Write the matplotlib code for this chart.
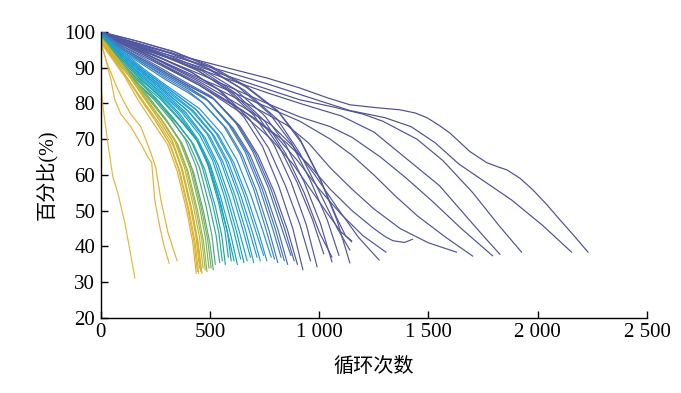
""" Capacity fade curves: percentage vs. cycle number. """

import matplotlib.pyplot as plt
from matplotlib.colors import LinearSegmentedColormap

# each curve: (cycle, percent) points
outlier_curves = [
    [(0, 87), (8, 80), (32, 69), (55, 59.5), (78, 55), (110, 46.6), (133, 39), (156, 31.2)],
    [(0, 97), (20, 93), (45, 87), (64, 81), (92, 77), (137, 73.5), (190, 68), (215, 65),
     (233, 63.5), (247, 53), (270, 45.5), (290, 40), (313, 35.3)],
    [(0, 97), (30, 91), (70, 85), (101, 81), (137, 77), (183, 73.5), (224, 67), (252, 62),
     (275, 53), (307, 44), (349, 36)],
]

yellow_curves = [
    [(0, 97), (52, 92.5), (109, 87.5), (175, 80.5), (240, 74.5), (306, 68.5), (350, 61), (393, 50), (420, 41.5), (437, 32.5)],
    [(0, 98), (55, 93), (112, 88), (180, 81.5), (246, 75.5), (312, 69), (356, 61.5), (398, 50.5), (425, 42), (442, 33)],
    [(0, 97.5), (56, 92.5), (115, 87.5), (184, 81), (252, 75), (318, 68.5), (362, 61), (404, 50), (431, 41.5), (448, 32.5)],
    [(0, 98.5), (58, 94), (118, 89), (188, 82.5), (256, 76.5), (323, 70), (366, 62.5), (408, 51.5), (435, 43), (452, 34)],
    [(0, 98), (59, 93.5), (120, 88.5), (192, 82), (261, 76), (328, 69.5), (372, 62), (414, 51), (440, 42.5), (458, 33)],
    [(0, 97), (60, 92), (122, 87), (196, 80.5), (266, 74.5), (333, 68), (377, 60.5), (419, 49.5), (446, 41), (463, 32.5)],
    [(0, 98), (62, 93.5), (125, 88.5), (200, 82), (271, 76), (338, 69.5), (383, 62), (425, 51), (452, 42.5), (468, 34)],
]

green_curves = [
    [(0, 98), (62, 93), (128, 88), (205, 81.5), (278, 75.5), (346, 69), (392, 61.5), (435, 50.5), (462, 42), (478, 33.5)],
    [(0, 97.5), (64, 92.5), (131, 87.5), (210, 81), (284, 75), (353, 68.5), (399, 61), (443, 50), (470, 41.5), (486, 33)],
    [(0, 98.5), (66, 93.5), (135, 88.5), (216, 82), (292, 76), (361, 69.5), (408, 62), (452, 51), (479, 42.5), (495, 34)],
    [(0, 98), (68, 93), (139, 88), (222, 81.5), (299, 75.5), (370, 69), (417, 61.5), (461, 50.5), (489, 42), (505, 34)],
    [(0, 97), (70, 92), (143, 87), (228, 80.5), (307, 74.5), (378, 68), (426, 60.5), (471, 49.5), (499, 41), (515, 33.5)],
    [(0, 98.5), (72, 94), (147, 89), (234, 82.5), (314, 76.5), (386, 70), (435, 62.5), (481, 51.5), (509, 43), (524, 35)],
]

teal_curves = [
    [(0, 98.5), (40, 94.5), (100, 90), (170, 85.5), (244, 81), (327, 75), (402, 69), (452, 62), (499, 51), (528, 43), (544, 35.5)],
    [(0, 99), (40, 95), (100, 91), (175, 86), (252, 81.5), (337, 75.5), (413, 69.5), (463, 62.5), (511, 52), (540, 44), (556, 36)],
    [(0, 98), (40, 94), (100, 90.5), (180, 85), (260, 80.5), (347, 74.5), (425, 68.5), (476, 61.5), (525, 51), (554, 43), (570, 35)],
    [(0, 99), (40, 95.5), (100, 91.5), (185, 86.5), (268, 82), (357, 76), (437, 70), (489, 63), (538, 52.5), (568, 44.5), (584, 37)],
    [(0, 98.5), (40, 95), (100, 91), (190, 85.5), (276, 81), (367, 75), (448, 69), (501, 62), (551, 51.5), (581, 43.5), (597, 36)],
]

cyan_curves = [
    [(0, 99), (50, 95.5), (100, 92), (200, 86), (300, 80.5), (354, 77), (433, 70.5), (488, 63.5), (537, 54), (580, 44), (610, 36)],
    [(0, 98.5), (50, 95), (100, 92), (200, 86.5), (300, 81), (363, 77), (444, 70), (500, 63), (550, 53.5), (594, 43.5), (625, 35)],
    [(0, 99.5), (50, 96), (100, 92.5), (200, 87), (300, 81.5), (371, 77.5), (454, 71), (512, 64), (563, 54.5), (608, 44.5), (640, 36.5)],
    [(0, 99), (50, 95.5), (100, 92.5), (200, 87), (300, 82), (380, 77.5), (465, 71), (524, 63.5), (576, 54), (622, 44), (655, 35.5)],
    [(0, 98.5), (50, 95.5), (100, 92.5), (200, 87.5), (300, 82.5), (389, 77.5), (476, 70.5), (536, 63), (590, 53.5), (637, 43.5), (670, 36)],
    [(0, 99.5), (50, 96), (100, 93), (200, 88), (300, 83), (397, 78), (486, 71.5), (548, 64), (603, 54.5), (651, 44.5), (685, 37)],
    [(0, 99), (50, 96), (100, 93), (200, 88), (300, 83), (406, 77.5), (497, 71), (560, 63.5), (616, 54), (665, 44), (700, 35.5)],
    [(0, 99.5), (50, 96.5), (100, 93.5), (200, 88.5), (300, 83.5), (415, 78), (508, 71.5), (572, 64), (629, 54.5), (679, 44.5), (715, 37)],
    [(0, 99), (50, 96), (100, 93.5), (200, 88.5), (300, 84), (423, 78), (518, 71), (584, 63.5), (642, 54), (694, 44), (730, 36)],
    [(0, 99.5), (50, 96.5), (100, 94), (200, 89), (300, 84.5), (432, 78.5), (529, 71.5), (596, 64), (656, 54.5), (708, 44.5), (745, 37.5)],
    [(0, 99), (50, 96.5), (100, 94), (200, 89), (300, 84.5), (441, 78), (540, 71), (608, 63.5), (669, 54), (722, 44), (760, 36)],
    [(0, 99.5), (50, 97), (100, 94.5), (200, 89.5), (300, 85), (452, 78.5), (554, 71.5), (624, 64), (686, 54.5), (741, 44.5), (780, 37)],
]

blue_curves = [
    [(0, 99.5), (100, 95), (200, 91), (300, 87), (400, 83.5), (461, 80.5), (564, 73.5), (636, 66), (700, 56), (755, 45), (795, 36.5)],
    [(0, 99), (100, 94.5), (200, 90.5), (300, 86.5), (400, 83), (470, 80), (575, 73), (648, 65.5), (713, 55.5), (770, 44.5), (810, 35.5)],
    [(0, 100), (100, 95.5), (200, 91.5), (300, 88), (400, 84.5), (479, 81.5), (586, 74), (660, 66.5), (726, 56.5), (784, 45.5), (825, 37)],
    [(0, 99.5), (100, 95), (200, 91.5), (300, 88), (400, 84.5), (487, 81), (596, 73.5), (672, 66), (739, 56), (798, 45), (840, 36)],
    [(0, 99), (100, 95), (200, 91), (300, 87.5), (400, 84), (496, 80.5), (607, 73), (684, 65.5), (752, 55.5), (812, 44.5), (855, 35)],
    [(0, 100), (100, 96), (200, 92.5), (300, 89), (400, 85.5), (505, 82), (618, 74.5), (696, 66.5), (766, 56.5), (826, 45.5), (870, 37.5)],
    [(0, 99.5), (100, 95.5), (200, 92), (300, 88.5), (400, 85), (513, 81.5), (628, 74), (708, 66), (779, 56), (841, 45), (885, 36)],
    [(0, 99), (100, 95.5), (200, 92), (300, 88.5), (400, 85), (522, 81), (639, 73.5), (720, 65.5), (792, 55.5), (855, 44.5), (900, 35)],
]

indigo_curves = [
    [(0, 100), (130, 96.5), (268, 93), (407, 89), (537, 84), (657, 76), (740, 68), (814, 57), (879, 45), (925, 33.5)],
    [(0, 99.5), (134, 96), (278, 92.5), (422, 88.5), (557, 83), (682, 75.5), (768, 67.5), (845, 57), (912, 46), (960, 36)],
    [(0, 100), (139, 97), (287, 93.5), (436, 89.5), (574, 84), (703, 76.5), (792, 68.5), (871, 58), (941, 46), (990, 34.3)],
    [(0, 99.5), (143, 96.5), (296, 93), (449, 89), (592, 83.5), (724, 76), (816, 68), (898, 58), (969, 47.5), (1020, 38)],
    [(0, 100), (148, 97), (307, 93.5), (466, 89.5), (614, 84), (751, 76.5), (846, 68.5), (931, 58), (1005, 46.5), (1058, 35.7)],
    [(0, 99.5), (148, 96.5), (307, 93), (466, 89), (614, 83), (751, 75), (846, 66), (931, 55), (1000, 44), (1058, 37)],
    [(0, 100), (153, 97), (316, 94), (480, 90), (632, 84.5), (774, 77), (872, 69), (959, 58.5), (1036, 47.5), (1090, 37.5)],
    [(0, 100), (160, 97.5), (331, 94.5), (502, 90.5), (661, 85), (809, 78), (912, 70), (1003, 59), (1083, 47), (1140, 35.4)],
    [(0, 99.5), (160, 97), (331, 94), (502, 89.5), (661, 83.5), (809, 75.5), (912, 66), (1003, 55), (1083, 45), (1140, 39)],
    [(0, 100), (161, 97.5), (333, 94.5), (505, 90), (666, 84.5), (815, 77.5), (918, 69), (1010, 58), (1080, 48), (1120, 43), (1148, 41.3)],
]

long_curves = [
    [(0, 100), (200, 96), (453, 91.9), (760, 87.1), (911, 84.3), (1040, 81.5), (1140, 79.6), (1260, 78.8),
     (1369, 78.2), (1440, 77.3), (1493, 76), (1550, 73.8), (1598, 71.7), (1690, 66.5), (1767, 63.4),
     (1820, 62.2), (1859, 61.4), (1920, 59), (1978, 55.8), (2040, 51.8), (2102, 47.4), (2166, 43),
     (2230, 38.4)],
    [(0, 100), (200, 95.5), (453, 91), (760, 85.5), (911, 82.5), (1140, 78), (1300, 76), (1420, 73.5),
     (1530, 69), (1640, 63), (1760, 58), (1880, 53), (2020, 46), (2155, 38.4)],
    [(0, 99.5), (200, 95), (453, 90.2), (760, 84), (911, 81), (1063, 79), (1200, 77), (1291, 75),
     (1400, 71.5), (1447, 70), (1566, 64), (1703, 55), (1827, 45.5), (1926, 38.4)],
    [(0, 100), (200, 95), (453, 89.5), (760, 83), (911, 80), (1100, 76.5), (1250, 72), (1350, 67),
     (1450, 62), (1550, 57), (1650, 50), (1750, 43), (1827, 37.8)],
    [(0, 99), (200, 94.5), (453, 88.2), (760, 80), (911, 76.2), (1050, 73.5), (1150, 70.5), (1280, 65),
     (1400, 59), (1520, 52.5), (1650, 45), (1793, 37.4)],
    [(0, 99.5), (200, 94), (453, 87), (760, 79), (911, 75), (1050, 70), (1150, 65.5), (1250, 60),
     (1350, 54), (1450, 48.5), (1580, 42.5), (1702, 37.3)],
    [(0, 100), (200, 94), (453, 86.5), (700, 79), (850, 74), (950, 69), (1050, 62), (1150, 56),
     (1250, 50.5), (1370, 45), (1500, 41), (1628, 38.4)],
    [(0, 99), (200, 93), (453, 85), (700, 76), (850, 69), (950, 63), (1050, 56), (1150, 50),
     (1250, 45), (1300, 42.8), (1337, 41.6), (1390, 41.1), (1427, 42)],
    [(0, 99.5), (200, 93.5), (453, 85.5), (650, 78), (800, 71), (900, 64), (1000, 56), (1100, 49),
     (1200, 43), (1305, 38.4)],
    [(0, 100), (200, 94), (453, 86), (650, 79), (780, 74), (880, 68), (980, 60), (1080, 51),
     (1180, 42.5), (1274, 36.2)],
    [(0, 99.5), (200, 93.5), (453, 85), (650, 77), (780, 70), (880, 63), (960, 56), (1040, 49),
     (1100, 44), (1148, 41.6)],
]

x_ticks = [0, 500, 1000, 1500, 2000, 2500]
x_tick_labels = ["0", "500", "1 000", "1 500", "2 000", "2 500"]
y_ticks = [20, 30, 40, 50, 60, 70, 80, 90, 100]

# colour by cycle life
life_stops = [0, 440, 470, 500, 530, 580, 640, 760, 830, 920, 2300]
life_colors = ["#E9B847", "#E2B22E", "#B9B83B", "#7BB25A", "#3AA98C", "#18A5B4",
               "#16A2D0", "#2698D6", "#4478BC", "#5258A0", "#4E4E92"]


def main():
    cmap = LinearSegmentedColormap.from_list(
        "life", [(s / life_stops[-1], c) for s, c in zip(life_stops, life_colors)]
    )

    fig = plt.figure(figsize=(6.81, 3.93), dpi=100)
    ax = fig.add_axes([0.148, 0.191, 0.802, 0.728])

    curves = (long_curves + indigo_curves + blue_curves + cyan_curves
              + teal_curves + green_curves + yellow_curves + outlier_curves)
    curves = sorted(curves, key=lambda c: -c[-1][0])
    for curve in curves:
        xs = [p[0] for p in curve]
        ys = [p[1] for p in curve]
        ax.plot(xs, ys, color=cmap(xs[-1] / life_stops[-1]), lw=0.85,
                solid_joinstyle="round")

    ax.set_xlim(0, 2500)
    ax.set_ylim(20, 100)
    ax.set_xticks(x_ticks)
    ax.set_xticklabels(x_tick_labels)
    ax.set_yticks(y_ticks)

    for side in ["top", "right"]:
        ax.spines[side].set_visible(False)
    for side in ["left", "bottom"]:
        ax.spines[side].set_linewidth(1.0)

    ax.tick_params(direction="in", length=5, width=1.0, pad=4,
                   labelsize=15)
    for label in ax.get_xticklabels() + ax.get_yticklabels():
        label.set_family(["Liberation Serif"])

    fam = ["Liberation Serif", "Noto Sans CJK SC"]
    ax.set_xlabel("循环次数", fontsize=14.5, family=fam, labelpad=11)
    ax.set_ylabel("百分比(%)", fontsize=14.5, family=fam, labelpad=4)

    plt.savefig("out.png", dpi=100)


if __name__ == "__main__":
    main()
